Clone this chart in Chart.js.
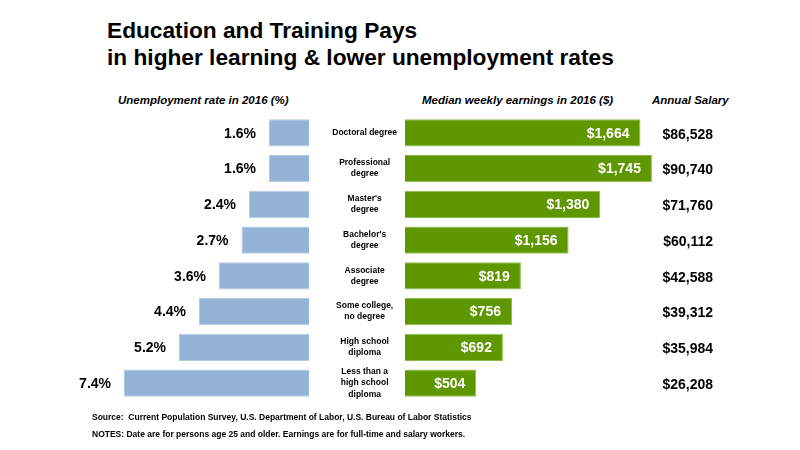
<!DOCTYPE html>
<html>
<head>
<meta charset="utf-8">
<title>Education and Training Pays</title>
<script src="https://cdn.jsdelivr.net/npm/chart.js@4/dist/chart.umd.min.js"></script>
<style>
  html, body { margin: 0; padding: 0; background: #fff; }
  body { width: 800px; height: 450px; position: relative; overflow: hidden;
         font-family: "Liberation Sans", Arial, sans-serif; color: #000; }
  .txt { position: absolute; white-space: nowrap; font-weight: bold; }
  #title { left: 107px; top: 17px; font-size: 22.7px; line-height: 27px; }
  .sub { top: 93px; font-size: 11.5px; line-height: 14px; font-style: italic; }
  .foot { left: 92px; font-size: 8.5px; line-height: 10px; }
  #leftWrap { position: absolute; left: 40px; top: 95px; width: 275px; height: 326px; }
  #rightWrap { position: absolute; left: 315px; top: 95px; width: 425px; height: 326px; }
</style>
</head>
<body>

<div id="title" class="txt">Education and Training Pays<br>in higher learning &amp; lower unemployment rates</div>
<div class="txt sub" style="left:118px;">Unemployment rate in 2016 (%)</div>
<div class="txt sub" style="left:422px;">Median weekly earnings in 2016 ($)</div>
<div class="txt sub" style="left:652px;">Annual Salary</div>

<div id="leftWrap"><canvas id="unempChart"></canvas></div>
<div id="rightWrap"><canvas id="earnChart"></canvas></div>

<div class="txt foot" style="top:412px;">Source:&nbsp; Current Population Survey, U.S. Department of Labor, U.S. Bureau of Labor Statistics</div>
<div class="txt foot" style="top:429px;">NOTES: Date are for persons age 25 and older. Earnings are for full-time and salary workers.</div>

<script>
// --- datos ---
const categories = [
    ['Doctoral degree'],
    ['Professional', 'degree'],
    ["Master's", 'degree'],
    ["Bachelor's", 'degree'],
    ['Associate', 'degree'],
    ['Some college,', 'no degree'],
    ['High school', 'diploma'],
    ['Less than a', 'high school', 'diploma']
];
const unemploymentRate = [1.6, 1.6, 2.4, 2.7, 3.6, 4.4, 5.2, 7.4];
const weeklyEarnings = [1664, 1745, 1380, 1156, 819, 756, 692, 504];
const annualSalary = [86528, 90740, 71760, 60112, 42588, 39312, 35984, 26208];

const BLUE = '#95b3d7';
const GREEN = '#5f9700';
const FONT = '"Liberation Sans", Arial, sans-serif';

// etiquetas a la izquierda de las barras azules
const unempLabels = {
    id: 'unempLabels',
    afterDatasetsDraw(chart) {
        const ctx = chart.ctx;
        const meta = chart.getDatasetMeta(0);
        ctx.save();
        ctx.font = 'bold 14px ' + FONT;
        ctx.fillStyle = '#000';
        ctx.textAlign = 'right';
        ctx.textBaseline = 'middle';
        meta.data.forEach((bar, i) => {
            ctx.fillText(unemploymentRate[i].toFixed(1) + '%', bar.x - 13, bar.y + 1);
        });
        ctx.restore();
    }
};

// etiquetas blancas dentro de las barras verdes + salario anual
const earnLabels = {
    id: 'earnLabels',
    afterDatasetsDraw(chart) {
        const ctx = chart.ctx;
        const meta = chart.getDatasetMeta(0);
        const area = chart.chartArea;
        ctx.save();
        ctx.font = 'bold 14px ' + FONT;
        ctx.textBaseline = 'middle';
        meta.data.forEach((bar, i) => {
            ctx.fillStyle = '#fff';
            ctx.textAlign = 'right';
            ctx.fillText('$' + weeklyEarnings[i].toLocaleString('en-US'), bar.x - 11, bar.y + 1);
            ctx.fillStyle = '#000';
            ctx.fillText('$' + annualSalary[i].toLocaleString('en-US'), area.right + 25, bar.y + 2);
        });
        ctx.restore();
    }
};

const common = {
    indexAxis: 'y',
    responsive: true,
    maintainAspectRatio: false,
    animation: false,
    plugins: { legend: { display: false }, tooltip: { enabled: false } }
};

new Chart(document.getElementById('unempChart'), {
    type: 'bar',
    data: {
        labels: categories,
        datasets: [{
            data: unemploymentRate,
            backgroundColor: BLUE,
            borderColor: '#b4c9e3',
            borderWidth: 1,
            categoryPercentage: 1,
            barPercentage: 0.76
        }]
    },
    options: {
        ...common,
        layout: { padding: { top: 20, bottom: 20, left: 19, right: 6 } },
        scales: {
            x: { display: false, reverse: true, min: 0, max: 10 },
            y: { display: false }
        }
    },
    plugins: [unempLabels]
});

new Chart(document.getElementById('earnChart'), {
    type: 'bar',
    data: {
        labels: categories,
        datasets: [{
            data: weeklyEarnings,
            backgroundColor: GREEN,
            borderColor: '#8fba4e',
            borderWidth: 1,
            categoryPercentage: 1,
            barPercentage: 0.76
        }]
    },
    options: {
        ...common,
        layout: { padding: { top: 20, bottom: 20, left: 0, right: 52 } },
        scales: {
            x: { display: false, min: 0, max: 2000 },
            y: {
                grid: { display: false },
                border: { display: false },
                afterFit(scale) { scale.width = 90; },
                ticks: {
                    autoSkip: false,
                    crossAlign: 'center',
                    padding: 0,
                    color: '#000',
                    font: { family: FONT, size: 8.5, weight: 'bold', lineHeight: 1.3 }
                }
            }
        }
    },
    plugins: [earnLabels]
});
</script>
</body>
</html>
